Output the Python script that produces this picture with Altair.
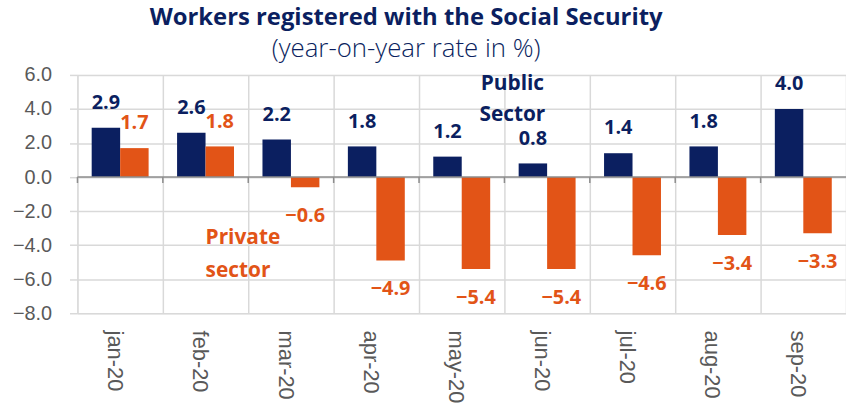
import altair as alt
import pandas as pd

months = ["jan-20", "feb-20", "mar-20", "apr-20", "may-20", "jun-20", "jul-20", "aug-20", "sep-20"]
public_sector = [2.9, 2.6, 2.2, 1.8, 1.2, 0.8, 1.4, 1.8, 4.0]
private_sector = [1.7, 1.8, -0.6, -4.9, -5.4, -5.4, -4.6, -3.4, -3.3]
sectors = ["Public", "Private"]
y_ticks = [-8, -6, -4, -2, 0, 2, 4, 6]

NAVY = "#0B1F60"
ORANGE = "#E25417"
GRID = "#D9D9D9"
LABEL = "#595959"
FONT = "Open Sans"
AXFONT = "Liberation Sans"

rows = []
for m, pu, pr in zip(months, public_sector, private_sector):
    rows.append({"month": m, "sector": "Public", "value": pu})
    rows.append({"month": m, "sector": "Private", "value": pr})
df = pd.DataFrame(rows)
mdf = pd.DataFrame({"month": months})
one = pd.DataFrame({"k": [0]})

x_enc = alt.X(
    "month:N",
    sort=months,
    scale=alt.Scale(paddingInner=0, paddingOuter=0),
    axis=alt.Axis(
        title=None, labelAngle=90, tickBand="extent", ticks=False, domain=False,
        grid=True, gridColor=GRID, gridWidth=1.5, labelPadding=17, labelOffset=-6,
        labelFont=AXFONT, labelFontSize=22, labelColor=LABEL, labelOverlap=False,
    ),
)
xoff = alt.XOffset("sector:N", sort=sectors, scale=alt.Scale(paddingInner=0, paddingOuter=0.5))
y_enc = alt.Y(
    "value:Q",
    scale=alt.Scale(domain=[-8, 6], nice=False, zero=False),
    axis=alt.Axis(
        values=y_ticks, tickCount=len(y_ticks), format=".1f", title=None, domain=False,
        tickColor=GRID, tickSize=8, tickWidth=1.5, labelPadding=18,
        gridColor=GRID, gridWidth=1.5, labelOverlap=False,
        labelFont=AXFONT, labelFontSize=20, labelColor=LABEL,
    ),
)
color = alt.Color("sector:N", scale=alt.Scale(domain=sectors, range=[NAVY, ORANGE]), legend=None)

base = alt.Chart(df)
bars = base.mark_bar().encode(x=x_enc, xOffset=xoff, y=y_enc, color=color)

pos_labels = base.transform_filter("datum.value >= 0").mark_text(
    dy=-25, baseline="middle", font=FONT, fontSize=20, fontWeight="bold"
).encode(x=x_enc, xOffset=xoff, y=y_enc, color=color,
         text=alt.Text("value:Q", format=".1f"))
neg_labels = base.transform_filter("datum.value < 0").mark_text(
    dy=29, baseline="middle", font=FONT, fontSize=20, fontWeight="bold"
).encode(x=x_enc, xOffset=xoff, y=y_enc, color=color,
         text=alt.Text("value:Q", format=".1f"))

zero_line = alt.Chart(one).mark_rule(color="#8C8C8C", strokeWidth=1.5).encode(y=alt.datum(0))
zero_ticks = alt.Chart(mdf).mark_rule(color="#8C8C8C", strokeWidth=1.5).encode(
    x=alt.X("month:N", sort=months, bandPosition=0), y=alt.datum(0), y2=alt.datum(-0.35)
)

ann_style = dict(font=FONT, fontSize=21, fontWeight="bold", baseline="middle")
public_ann1 = alt.Chart(one).mark_text(text="Public", color=NAVY, dx=-35, **ann_style).encode(
    x=alt.datum("jun-20"), y=alt.datum(5.45))
public_ann2 = alt.Chart(one).mark_text(text="Sector", color=NAVY, dx=-35, **ann_style).encode(
    x=alt.datum("jun-20"), y=alt.datum(3.65))
private_ann1 = alt.Chart(one).mark_text(text="Private", color=ORANGE, align="left", **ann_style).encode(
    x=alt.datum("feb-20"), y=alt.datum(-3.56))
private_ann2 = alt.Chart(one).mark_text(text="sector", color=ORANGE, align="left", **ann_style).encode(
    x=alt.datum("feb-20"), y=alt.datum(-5.5))

chart = alt.layer(
    bars, zero_line, zero_ticks, pos_labels, neg_labels,
    public_ann1, public_ann2, private_ann1, private_ann2,
).properties(
    width=774,
    height=240,
    autosize=alt.AutoSizeParams(type="none"),
    padding={"left": 78, "top": 74, "right": 0, "bottom": 95},
    title=alt.TitleParams(
        text="Workers registered with the Social Security",
        subtitle="(year-on-year rate in %)",
        anchor="middle", frame="group", dx=-56, offset=3,
        font=FONT, fontSize=24, fontWeight="bold", color=NAVY,
        subtitleFont=FONT, subtitleFontSize=26, subtitleColor=NAVY,
        subtitleFontWeight=300, subtitlePadding=6,
    ),
).configure_view(stroke=None).configure_axis(labelOverlap=False).configure(background="white")

chart.save("out.html", embed_options={"renderer": "svg", "actions": False})
